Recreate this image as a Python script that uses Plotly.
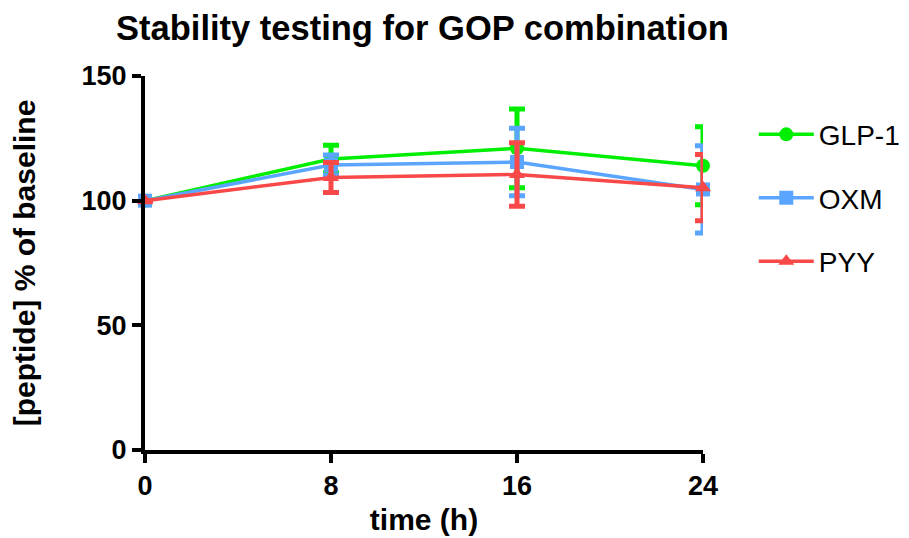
import plotly.graph_objects as go

time_h = [0, 8, 16, 24]
series_names = ["GLP-1", "OXM", "PYY"]
glp1_mean = [100, 116.7, 121, 114]
glp1_err = [0, 5.5, 15.8, 15.6]
oxm_mean = [100, 114.3, 115.5, 104.5]
oxm_err = [0, 4, 13.5, 17.5]
pyy_mean = [100, 109.3, 110.5, 105.2]
pyy_err = [0, 6, 12.7, 13.3]
y_ticks = [0, 50, 100, 150]
x_ticks = [0, 8, 16, 24]

colors = ["#00ee00", "#5aa5ff", "#f84848"]
symbols = ["circle", "square", "triangle-up"]
means = [glp1_mean, oxm_mean, pyy_mean]
errs = [glp1_err, oxm_err, pyy_err]

fig = go.Figure()
for name, m, e, c, s in zip(series_names, means, errs, colors, symbols):
    fig.add_trace(go.Scatter(
        x=time_h, y=m, name=name, mode="lines+markers", legendgroup=name,
        line=dict(color=c, width=3.5),
        marker=dict(symbol=s, size=14, color=c),
        error_y=dict(type="data", array=e, visible=True, color=c, thickness=5, width=8),
        cliponaxis=False,
    ))

font_fam = "Liberation Sans, Arial, sans-serif"
fig.update_layout(
    width=901, height=530,
    margin=dict(l=137, r=206, t=68, b=88, autoexpand=False),
    paper_bgcolor="white", plot_bgcolor="white",
    title=dict(text="<b>Stability testing for GOP combination</b>", x=0.46, xanchor="center",
               y=0.962, yanchor="middle", font=dict(family=font_fam, size=34.5, color="black")),
    font=dict(family=font_fam, color="black"),
    legend=dict(x=1.091, y=0.91, xanchor="left", yanchor="top", font=dict(size=28, family=font_fam),
                tracegroupgap=24, itemsizing="trace", itemwidth=55),
    showlegend=True,
)
fig.update_xaxes(
    range=[0, 24], tickvals=x_ticks, ticktext=[f"<b>{v}</b>" for v in x_ticks],
    showline=True, linecolor="black", linewidth=4, ticks="outside", ticklen=9, tickwidth=4,
    tickcolor="black", showgrid=False, zeroline=False, automargin=False,
    tickfont=dict(size=27, family=font_fam),
    title=dict(text="<b>time (h)</b>", font=dict(size=30, family=font_fam), standoff=10),
)
fig.update_yaxes(
    range=[0, 150], tickvals=y_ticks, ticktext=[f"<b>{v}</b>" for v in y_ticks],
    showline=True, linecolor="black", linewidth=4, ticks="outside", ticklen=9, tickwidth=4,
    tickcolor="black", showgrid=False, zeroline=False, automargin=False,
    tickfont=dict(size=27, family=font_fam),
    title=dict(text="<b>[peptide] % of baseline</b>", font=dict(size=30, family=font_fam), standoff=46),
)
fig.write_html("out.html")
